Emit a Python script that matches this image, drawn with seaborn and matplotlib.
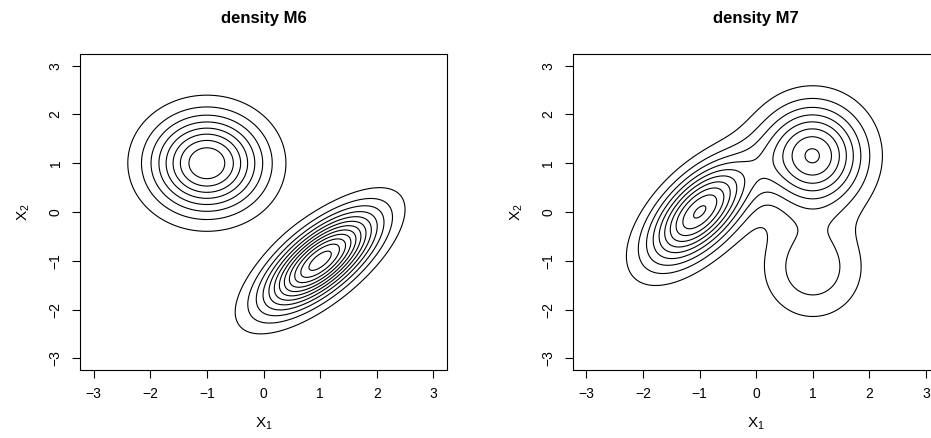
import numpy as np
import matplotlib
matplotlib.use("Agg")
import matplotlib.pyplot as plt
import seaborn as sns

# Bivariate normal mixtures: weights, means, standard deviations, correlations
m6_weights = [1 / 2, 1 / 2]
m6_means = [(1.0, -1.0), (-1.0, 1.0)]
m6_sds = [(2 / 3, 2 / 3), (2 / 3, 2 / 3)]
m6_rhos = [0.7, 0.0]

m7_weights = [3 / 7, 3 / 7, 1 / 7]
m7_means = [(-1.0, 0.0), (1.0, 2 / np.sqrt(3)), (1.0, -2 / np.sqrt(3))]
m7_sds = [(3 / 5, 7 / 10), (3 / 5, 7 / 10), (3 / 5, 7 / 10)]
m7_rhos = [3 / 5, 0.0, 0.0]

titles = ["density M6", "density M7"]
tick_values = [-3, -2, -1, 0, 1, 2, 3]
level_step = 0.02


def mixture_density(xx, yy, weights, means, sds, rhos):
    z = np.zeros_like(xx)
    for w, (mx, my), (sx, sy), r in zip(weights, means, sds, rhos):
        u = (xx - mx) / sx
        v = (yy - my) / sy
        q = (u * u - 2 * r * u * v + v * v) / (1 - r * r)
        z += w * np.exp(-0.5 * q) / (2 * np.pi * sx * sy * np.sqrt(1 - r * r))
    return z


sns.set_style("white")
plt.rcParams["font.family"] = ["Liberation Sans", "DejaVu Sans"]
plt.rcParams["mathtext.fontset"] = "custom"
plt.rcParams["mathtext.rm"] = "Liberation Sans"
plt.rcParams["mathtext.it"] = "Liberation Sans"
plt.rcParams["axes.unicode_minus"] = True
for key in ["text.color", "axes.labelcolor", "xtick.color", "ytick.color",
            "xtick.labelcolor", "ytick.labelcolor", "axes.edgecolor"]:
    plt.rcParams[key] = "black"

W, H = 931, 438
fig = plt.figure(figsize=(W / 100, H / 100), dpi=100)
fig.patch.set_facecolor("white")

lim = (-3.24, 3.24)
grid = np.linspace(lim[0], lim[1], 500)
xx, yy = np.meshgrid(grid, grid)

panels = [
    (80, (m6_weights, m6_means, m6_sds, m6_rhos)),
    (572.7, (m7_weights, m7_means, m7_sds, m7_rhos)),
]
ax_w, ax_top, ax_bot = 367, 54, 370

for (left_px, params), title in zip(panels, titles):
    ax = fig.add_axes([left_px / W, 1 - ax_bot / H, ax_w / W, (ax_bot - ax_top) / H])
    z = mixture_density(xx, yy, *params)
    levels = level_step * np.arange(1, int(z.max() / level_step) + 1)
    ax.contour(xx, yy, z, levels=levels, colors="black", linewidths=0.8)
    ax.set_xlim(lim)
    ax.set_ylim(lim)
    ax.set_xticks(tick_values)
    ax.set_yticks(tick_values)
    ax.set_xticklabels([str(t).replace("-", "\u2212") for t in tick_values])
    ax.set_yticklabels([str(t).replace("-", "\u2212") for t in tick_values],
                       rotation=90, va="center")
    ax.tick_params(axis="both", direction="out", length=5.5, width=0.8,
                   color="black", labelcolor="black", labelsize=10, pad=7,
                   bottom=True, left=True)
    for s in ax.spines.values():
        s.set_color("black")
        s.set_linewidth(0.8)
    ax.set_xlabel(r"$\mathrm{X}_1$", fontsize=11, labelpad=10, color="black")
    ax.set_ylabel(r"$\mathrm{X}_2$", fontsize=11, labelpad=12, color="black")
    ax.set_title(title, fontsize=12, fontweight="bold", pad=22, color="black")

fig.savefig("out.png", dpi=100, facecolor="white")
